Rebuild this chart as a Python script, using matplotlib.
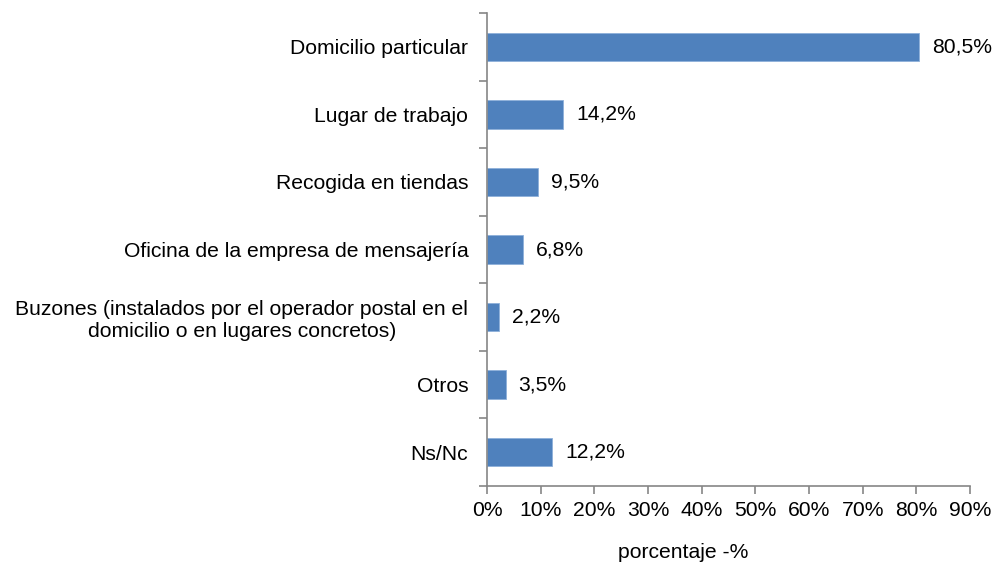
import numpy as np
import matplotlib.pyplot as plt
from matplotlib.ticker import FixedLocator, PercentFormatter

plt.rcParams["font.family"] = ["Liberation Sans", "DejaVu Sans"]

BAR_COLOR = '#4F81BD'
AXIS_COLOR = '#868686'
FS = 15.2

categories = [
    'Domicilio particular',
    'Lugar de trabajo',
    'Recogida en tiendas',
    'Oficina de la empresa de mensajería',
    'Buzones (instalados por el operador postal en el\ndomicilio o en lugares concretos)',
    'Otros',
    'Ns/Nc',
]
values = [80.5, 14.2, 9.5, 6.8, 2.2, 3.5, 12.2]
x_ticks = [0, 10, 20, 30, 40, 50, 60, 70, 80, 90]

fig = plt.figure(figsize=(9.96, 5.63), dpi=100)
ax = fig.add_axes([487 / 996, 1 - 486 / 563, (970 - 487) / 996, (486 - 13) / 563])

n = len(categories)
ypos = np.arange(n)
ax.barh(ypos, values, height=0.42, color=BAR_COLOR, edgecolor='#8EB0DA', linewidth=0.6)

for y, v in zip(ypos, values):
    ax.text(v + 2.4, y, f'{v:.1f}'.replace('.', ',') + '%', va='center', ha='left', fontsize=FS)

ax.set_ylim(n - 0.5, -0.5)
ax.set_xlim(0, 90)

ax.set_yticks(ypos)
ax.set_yticklabels(categories, fontsize=FS, multialignment='center')
ax.yaxis.set_minor_locator(FixedLocator(np.arange(n + 1) - 0.5))
ax.tick_params(axis='y', which='major', length=0, pad=13.5)
ax.tick_params(axis='y', which='minor', length=6, width=1.2, color=AXIS_COLOR)

ax.set_xticks(x_ticks)
ax.xaxis.set_major_formatter(PercentFormatter(decimals=0))
ax.tick_params(axis='x', length=6, width=1.2, color=AXIS_COLOR, labelsize=FS, pad=5)

for side in ('top', 'right'):
    ax.spines[side].set_visible(False)
for side in ('left', 'bottom'):
    ax.spines[side].set_color(AXIS_COLOR)
    ax.spines[side].set_linewidth(1.2)

fig.text(683 / 996, 1 - 553 / 563, 'porcentaje -%', ha='center', va='center', fontsize=FS)

fig.savefig('out.png', dpi=100)
